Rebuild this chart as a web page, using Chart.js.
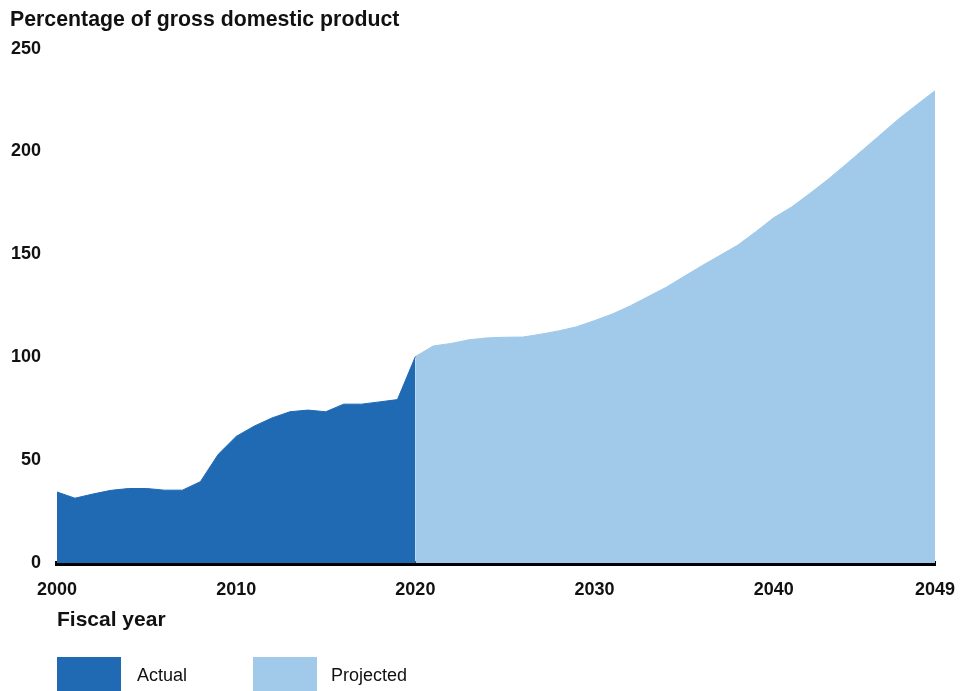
<!DOCTYPE html>
<html>
<head>
<meta charset="utf-8">
<title>Debt held by the public, percentage of GDP</title>
<script src="https://cdn.jsdelivr.net/npm/chart.js"></script>
<style>
  html, body { margin: 0; padding: 0; background: #fff; }
  #wrap { width: 974px; height: 691px; }
</style>
</head>
<body>
<div id="wrap"><canvas id="debtChart" width="974" height="691"></canvas></div>
<script>
// fiscal years on the x axis
const years = [
  2000, 2001, 2002, 2003, 2004, 2005, 2006, 2007, 2008, 2009,
  2010, 2011, 2012, 2013, 2014, 2015, 2016, 2017, 2018, 2019,
  2020, 2021, 2022, 2023, 2024, 2025, 2026, 2027, 2028, 2029,
  2030, 2031, 2032, 2033, 2034, 2035, 2036, 2037, 2038, 2039,
  2040, 2041, 2042, 2043, 2044, 2045, 2046, 2047, 2048, 2049
];
const shownYears = [2000, 2010, 2020, 2030, 2040, 2049];

// actual, 2000-2020
const actual = [
  34.5, 31.5, 33.5, 35.3, 36.2, 36.2, 35.4, 35.4, 39.5, 52.8,
  61.5, 66.5, 70.5, 73.5, 74.3, 73.5, 77.2, 77.2, 78.3, 79.4,
  100.3
];
// projected, 2020-2049
const projected = [
  100.3, 105.5, 106.7, 108.5, 109.4, 109.7, 109.8, 111.2, 112.8, 114.8,
  117.8, 121.0, 125.0, 129.5, 134.0, 139.3, 144.5, 149.5, 154.5, 161.0,
  167.8, 173.0, 179.5, 186.2, 193.5, 201.0, 208.5, 216.0, 222.8, 229.5
];
const yTicks = [0, 50, 100, 150, 200, 250];

const darkBlue = '#206AB4';
const lightBlue = '#A0C9EA';
const fontFamily = '"Liberation Sans", Arial, Helvetica, sans-serif';

// line up both series on the year axis
const actualData = actual.concat(new Array(years.length - actual.length).fill(null));
const projectedData = new Array(years.length - projected.length).fill(null).concat(projected);

// legend boxes under the axis title
const legendPlugin = {
  id: 'boxLegend',
  afterDraw(chart) {
    const ctx = chart.ctx;
    const items = [
      { label: 'Actual', color: darkBlue, box: 57, text: 137 },
      { label: 'Projected', color: lightBlue, box: 253, text: 331 }
    ];
    ctx.save();
    ctx.font = '18px ' + fontFamily;
    ctx.textBaseline = 'alphabetic';
    ctx.textAlign = 'left';
    items.forEach(it => {
      ctx.fillStyle = it.color;
      ctx.fillRect(it.box, 657, 64, 34);
      ctx.fillStyle = '#111';
      ctx.fillText(it.label, it.text, 681);
    });
    ctx.restore();
  }
};

new Chart(document.getElementById('debtChart'), {
  type: 'line',
  data: {
    labels: years,
    datasets: [
      {
        label: 'Projected',
        data: projectedData,
        borderColor: lightBlue,
        backgroundColor: lightBlue,
        borderWidth: 1,
        pointRadius: 0,
        fill: 'origin',
        tension: 0,
        order: 2
      },
      {
        label: 'Actual',
        data: actualData,
        borderColor: darkBlue,
        backgroundColor: darkBlue,
        borderWidth: 1,
        pointRadius: 0,
        fill: 'origin',
        tension: 0,
        order: 1
      }
    ]
  },
  options: {
    responsive: false,
    animation: false,
    events: [],
    layout: { padding: { top: 0, left: 10, right: 39, bottom: 0 } },
    plugins: {
      legend: { display: false },
      tooltip: { enabled: false },
      title: {
        display: true,
        text: 'Percentage of gross domestic product',
        align: 'start',
        color: '#111',
        font: { family: fontFamily, size: 21.3, weight: 'bold' },
        padding: { top: 7, bottom: 16 }
      }
    },
    scales: {
      x: {
        type: 'category',
        offset: false,
        z: 1,
        grid: { display: false, drawTicks: false },
        border: { display: true, color: '#000', width: 5 },
        ticks: {
          autoSkip: false,
          maxRotation: 0,
          padding: 16,
          color: '#111',
          font: { family: fontFamily, size: 18, weight: 'bold' },
          callback: function (value, index) {
            const yr = years[index];
            return shownYears.includes(yr) ? String(yr) : '';
          }
        },
        title: {
          display: true,
          text: 'Fiscal year',
          align: 'start',
          color: '#111',
          font: { family: fontFamily, size: 21, weight: 'bold' },
          padding: { top: 7, bottom: 58 }
        },
        afterFit: function (scale) { scale.height = 128; }
      },
      y: {
        min: yTicks[0],
        max: yTicks[yTicks.length - 1],
        grid: { display: false, drawTicks: false },
        border: { display: false },
        afterBuildTicks: function (scale) {
          scale.ticks = yTicks.map(v => ({ value: v }));
        },
        ticks: {
          padding: 16,
          color: '#111',
          font: { family: fontFamily, size: 18, weight: 'bold' }
        },
        afterFit: function (scale) { scale.width = 47; }
      }
    }
  },
  plugins: [legendPlugin]
});
</script>
</body>
</html>
